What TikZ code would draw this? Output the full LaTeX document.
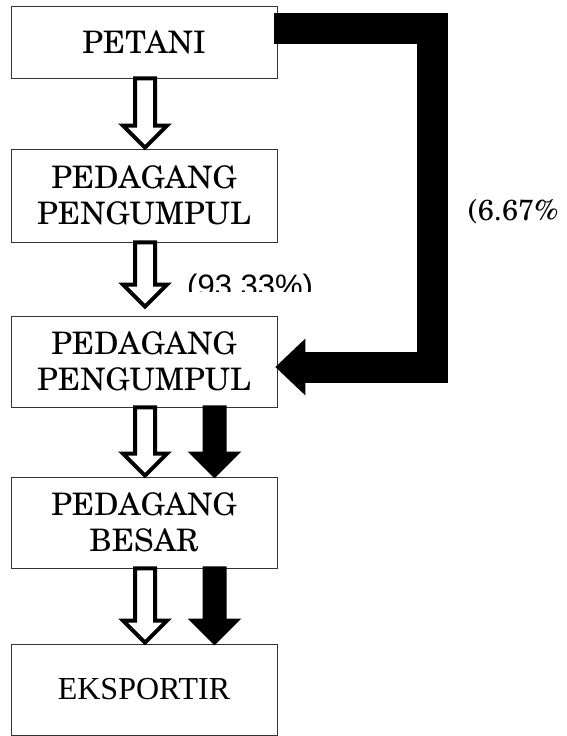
\documentclass[tikz,border=0pt]{standalone}
\usepackage[T1]{fontenc}
\usepackage{fontspec}
\newfontfamily\arialfont{Liberation Sans}
\newfontfamily\timesfont{Liberation Serif}
\newcommand{\scholafont}{\fontencoding{T1}\fontfamily{pnc}\selectfont}
\usetikzlibrary{arrows.meta}

% block arrow: [gap] style, x offset, from node, to node
\newcommand{\panah}[5][1pt]{%
  \draw[#2] ([xshift=#3-10pt]#4.south) -- ([xshift=#3-10pt,yshift=#1+22pt]#5.north)
    -- ([xshift=#3-22pt,yshift=#1+22pt]#5.north) -- ([xshift=#3,yshift=#1]#5.north)
    -- ([xshift=#3+22pt,yshift=#1+22pt]#5.north) -- ([xshift=#3+10pt,yshift=#1+22pt]#5.north)
    -- ([xshift=#3+10pt]#4.south) -- cycle;}

\begin{document}
\begin{tikzpicture}[x=1pt,y=-1pt,
    kotak/.style={draw=black!80,line width=0.8pt,minimum width=266pt,align=center,inner sep=0pt},
    kosong/.style={draw=black,line width=4pt,fill=white},
    pekat/.style={draw=black,line width=4pt,fill=black},
    jalur/.style={line width=31pt}]
\useasboundingbox (0,0) rectangle (567,736);

\begin{scope}[every node/.style={kotak,font=\scholafont\fontsize{31}{36}\selectfont}]
    \node[minimum height=72pt] (petani) at (144,42) {PETANI};
    \node[minimum height=93pt] (pp1) at (144,195.5) {PEDAGANG\\PENGUMPUL};
    \node[minimum height=91pt] (pp2) at (144,361.5) {PEDAGANG\\PENGUMPUL};
    \node[minimum height=91pt] (besar) at (144,522.5) {PEDAGANG\\BESAR};
    \node[minimum height=91pt,font=\fontencoding{TU}\timesfont\fontsize{32}{38}\selectfont] (ekspor) at (144,689.5) {EKSPORTIR};
\end{scope}

\panah{kosong}{1pt}{petani}{pp1}
\panah[9pt]{kosong}{1pt}{pp1}{pp2}
\panah{kosong}{1pt}{pp2}{besar}
\panah{pekat}{70.5pt}{pp2}{besar}
\panah{kosong}{1pt}{besar}{ekspor}
\panah{pekat}{70.5pt}{besar}{ekspor}

\coordinate (ujung) at ([xshift=-2pt,yshift=-5.5pt]pp2.east);
\draw[jalur] ([xshift=-3pt,yshift=13.5pt]petani.east) -| (432.5,367) -- ([xshift=29pt]ujung);
\fill (ujung) -- ++(30,-28.5) -- ++(0,57) -- cycle;

\begin{scope}
    \clip (180,260) rectangle (330,291);
    \node[font=\arialfont\fontsize{31}{36}\selectfont,anchor=base west,inner sep=0pt] (persen1) at (187,296) {(93.33\%)};
\end{scope}
\node[font=\scholafont\fontsize{29}{34}\selectfont,anchor=base west,inner sep=0pt] (persen2) at (468,220) {(6.67\%};
\end{tikzpicture}
\end{document}
